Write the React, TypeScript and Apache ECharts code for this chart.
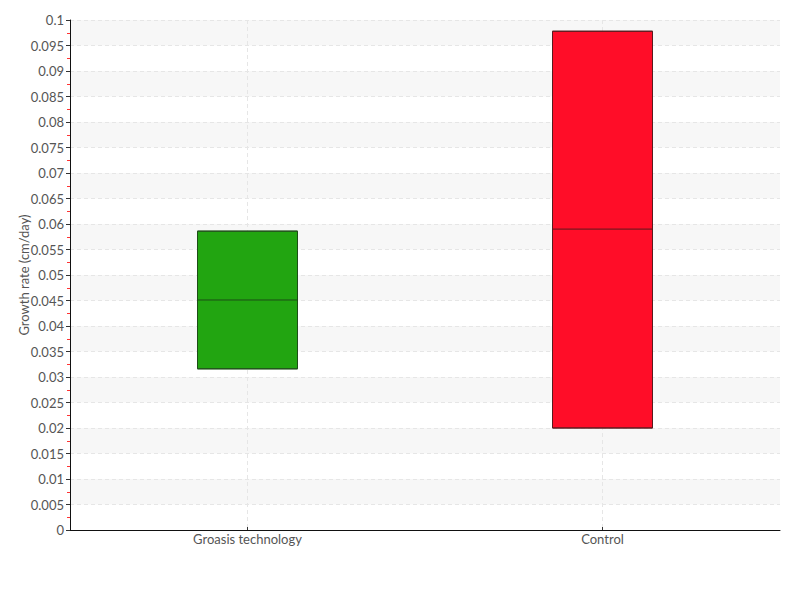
import React, { useEffect, useRef } from "react";
import * as echarts from "echarts";

const categories = ["Groasis technology", "Control"];
// [low, Q1, median, Q3, high]
const groasisBox = [0.0316, 0.0316, 0.0451, 0.0586, 0.0586];
const controlBox = [0.02, 0.02, 0.059, 0.0978, 0.0978];
const boxColors = ["#22a511", "#ff0d28"];
const boxBorders = ["#1d4d17", "#5a1a1e"];

const FONT = "Lato, 'Liberation Sans', sans-serif";

export default function App() {
  const ref = useRef<HTMLDivElement>(null);
  useEffect(() => {
    if (!ref.current) return;
    const chart = echarts.init(ref.current, null, { renderer: "svg" });
    const boxes = [groasisBox, controlBox];
    chart.setOption({
      animation: false,
      backgroundColor: "#ffffff",
      textStyle: { fontFamily: FONT },
      grid: { left: 70, right: 20, top: 20, bottom: 70 },
      xAxis: {
        type: "category",
        data: categories,
        boundaryGap: true,
        axisLine: { lineStyle: { color: "#111", width: 1 } },
        axisTick: { show: true, alignWithLabel: true, inside: true, length: 3, lineStyle: { color: "#333" } },
        axisLabel: { color: "#555", fontSize: 13, fontFamily: FONT, margin: 2 },
        splitLine: { show: true, alignWithLabel: true, lineStyle: { color: "#e6e6e6", type: [4, 3] } } as any,
      },
      yAxis: {
        type: "value",
        min: 0,
        max: 0.1,
        interval: 0.005,
        name: "Growth rate (cm/day)",
        nameLocation: "middle",
        nameGap: 40,
        nameMoveOverlap: false,
        nameTextStyle: { color: "#555", fontSize: 13, fontFamily: FONT },
        axisLine: { show: true, lineStyle: { color: "#111", width: 1 } },
        axisTick: { show: true, length: 4, lineStyle: { color: "#333" } },
        minorTick: { show: true, splitNumber: 2, length: 3, lineStyle: { color: "#ff3333" } },
        axisLabel: {
          color: "#555",
          fontSize: 13,
          fontFamily: FONT,
          margin: 6,
          formatter: (v: number) => String(Number(v.toFixed(3))),
        },
        splitLine: { show: true, lineStyle: { color: "#e6e6e6", type: [4, 3] } },
        splitArea: { show: true, areaStyle: { color: ["#ffffff", "#f7f7f7"] } },
      } as any,
      series: [
        {
          type: "boxplot",
          boxWidth: [100, 100],
          data: boxes.map((b, i) => ({
            value: b,
            itemStyle: { color: boxColors[i], borderColor: boxBorders[i], borderWidth: 1 },
          })),
        },
      ],
    });
    return () => chart.dispose();
  }, []);
  return <div ref={ref} style={{ width: 800, height: 600, position: "absolute", left: 0, top: 0 }} />;
}
